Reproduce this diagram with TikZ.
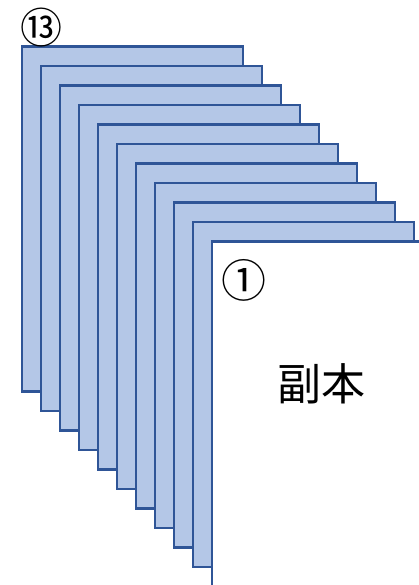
\documentclass[tikz,border=0pt]{standalone}
\usepackage{fontspec}
\newfontfamily\cjk{Noto Sans CJK JP}
\definecolor{pagefill}{HTML}{B4C7E7}
\definecolor{pageline}{HTML}{2F5597}
\tikzset{
  page/.style={draw=pageline, fill=pagefill, line width=2.2pt},
  frontpage/.style={draw=pageline, fill=white, line width=2.2pt},
  lbl/.style={inner sep=0pt, font=\cjk}
}
\begin{document}
\begin{tikzpicture}[x=1pt,y=-1pt]
\useasboundingbox (0,0) rectangle (418,585);
\foreach \i in {0,...,9}{
  \path[page] (22+19*\i, 46.5+19.5*\i) rectangle ++(221,345);
}
\path[frontpage] (212,241.5) rectangle (440,600);
\node[lbl, font=\cjk\fontsize{42}{42}\selectfont] (n13) at (41,28) {⑬};
\node[lbl, font=\cjk\fontsize{45}{45}\selectfont] (n1) at (244,280) {①};
\node[lbl, font=\cjk\fontsize{44}{44}\selectfont] (copy) at (321,384) {副本};
\end{tikzpicture}
\end{document}
